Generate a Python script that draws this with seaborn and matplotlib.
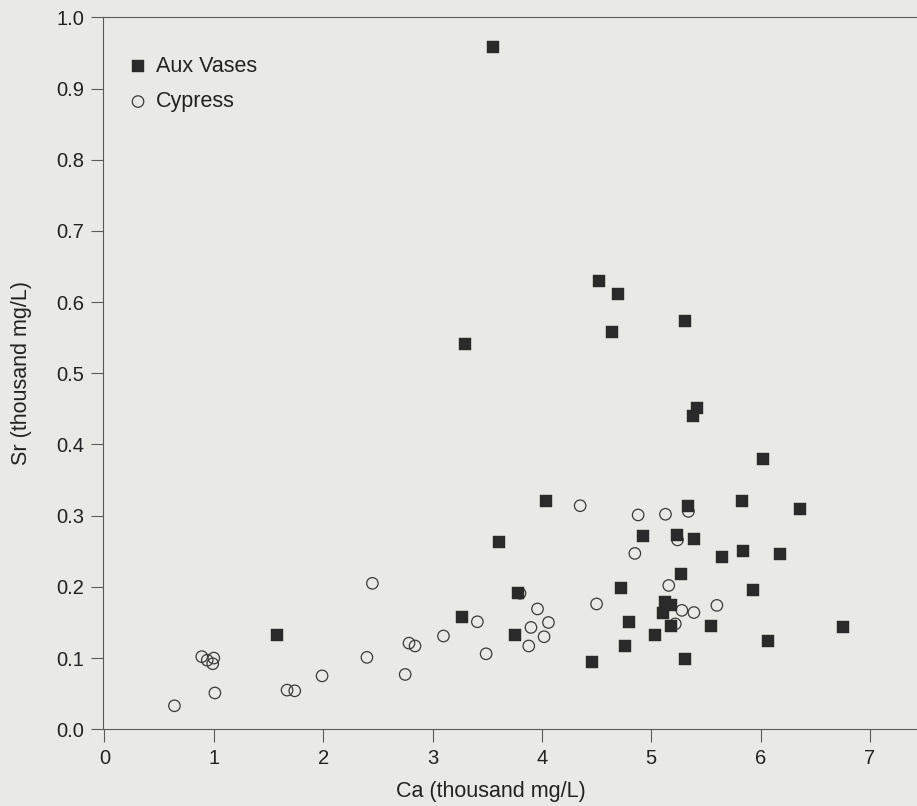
import matplotlib
matplotlib.use("Agg")
import matplotlib.pyplot as plt
import seaborn as sns
import pandas as pd

# Aux Vases (filled squares)
aux_ca = [3.55, 4.52, 4.70, 4.64, 5.31, 3.30, 5.42, 5.38, 6.02, 4.04,
          5.83, 5.34, 6.36, 3.61, 4.92, 5.24, 5.39, 5.65, 5.84, 6.18,
          5.27, 4.72, 5.93, 3.78, 5.125, 5.18, 5.11, 3.27, 4.80, 5.18,
          5.55, 6.755, 1.58, 3.75, 5.03, 6.07, 4.76, 5.31, 4.46]
aux_sr = [0.958, 0.630, 0.612, 0.558, 0.573, 0.541, 0.451, 0.440, 0.380, 0.320,
          0.321, 0.313, 0.310, 0.263, 0.271, 0.273, 0.267, 0.242, 0.250, 0.246,
          0.218, 0.198, 0.195, 0.192, 0.179, 0.175, 0.164, 0.157, 0.150, 0.145,
          0.145, 0.144, 0.132, 0.133, 0.132, 0.124, 0.117, 0.099, 0.095]

# Cypress (open circles)
cyp_ca = [0.64, 0.89, 0.94, 1.00, 0.99, 1.01, 1.67, 1.74, 1.99, 2.40,
          2.45, 2.75, 2.785, 2.84, 3.10, 3.41, 3.49, 3.80, 3.88, 3.90,
          3.96, 4.02, 4.06, 4.35, 4.50, 4.85, 4.88, 5.13, 5.16, 5.22,
          5.24, 5.28, 5.34, 5.39, 5.60]
cyp_sr = [0.033, 0.102, 0.097, 0.100, 0.092, 0.051, 0.055, 0.054, 0.075, 0.101,
          0.205, 0.077, 0.121, 0.117, 0.131, 0.151, 0.106, 0.191, 0.117, 0.143,
          0.169, 0.130, 0.150, 0.314, 0.176, 0.247, 0.301, 0.302, 0.202, 0.148,
          0.266, 0.167, 0.306, 0.164, 0.174]

x_ticks = [0, 1, 2, 3, 4, 5, 6, 7]
y_ticks = [0.0, 0.1, 0.2, 0.3, 0.4, 0.5, 0.6, 0.7, 0.8, 0.9, 1.0]
x_label = "Ca (thousand mg/L)"
y_label = "Sr (thousand mg/L)"

df_aux = pd.DataFrame({"Ca": aux_ca, "Sr": aux_sr})
df_cyp = pd.DataFrame({"Ca": cyp_ca, "Sr": cyp_sr})

sns.set_style("ticks")
plt.rcParams["font.family"] = ["Liberation Sans", "DejaVu Sans"]

bg = "#e9eae5"
axc = "#5a5a5a"
txt = "#222222"
fig = plt.figure(figsize=(9.17, 8.06), dpi=100, facecolor=bg)
ax = fig.add_axes([0.1127, 0.0952, 1.0 - 0.1127, 0.9785 - 0.0952])
ax.set_facecolor(bg)

sns.scatterplot(data=df_aux, x="Ca", y="Sr", ax=ax, marker="s", s=82,
                color="#2a2a2a", edgecolor="#2a2a2a", linewidth=0.3,
                label="Aux Vases", zorder=3)
sns.scatterplot(data=df_cyp, x="Ca", y="Sr", ax=ax, marker="o", s=68,
                facecolor="none", edgecolor="#3a3a3a", linewidth=0.9,
                label="Cypress", zorder=2)

ax.set_xlim(-0.01, 7.43)
ax.set_ylim(0.0, 1.0)
ax.set_xticks(x_ticks)
ax.set_yticks(y_ticks)
ax.set_xticklabels([str(t) for t in x_ticks])
ax.set_yticklabels([f"{t:.1f}" for t in y_ticks])
ax.tick_params(axis="both", direction="out", length=9, width=0.8,
               color=axc, labelsize=14.5, labelcolor=txt, pad=5)

for side in ["left", "bottom", "top"]:
    ax.spines[side].set_color(axc)
    ax.spines[side].set_linewidth(0.8)
ax.spines["right"].set_visible(False)

ax.set_xlabel(x_label, fontsize=15.5, color=txt)
ax.xaxis.set_label_coords(0.4765, -0.0726)
ax.set_ylabel(y_label, fontsize=15.5, color=txt)
ax.yaxis.set_label_coords(-0.0876, 0.5)

leg = ax.legend(loc="upper left", bbox_to_anchor=(0.0294, 0.9463), frameon=False,
                fontsize=15.5, handlelength=1.0, handletextpad=0.34,
                labelspacing=0.68, borderpad=0, borderaxespad=0,
                labelcolor=txt)

fig.savefig("out.png", dpi=100, facecolor=bg)
